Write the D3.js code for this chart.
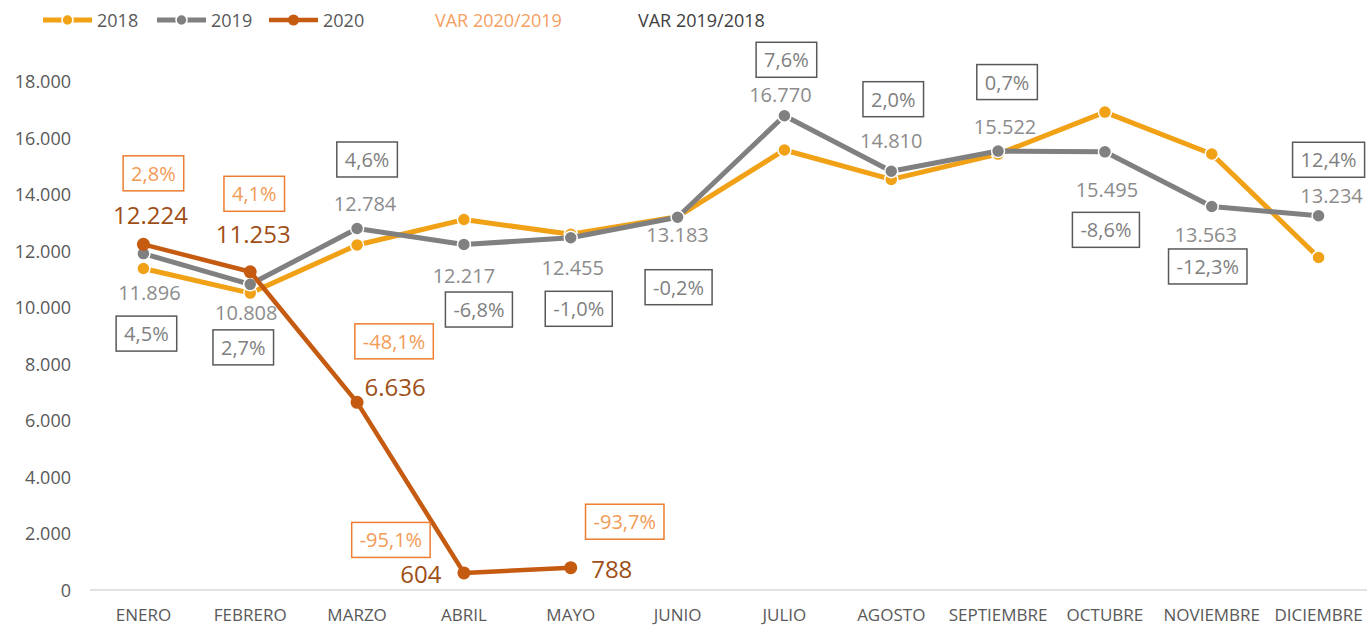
<!DOCTYPE html>
<html>
<head>
<meta charset="utf-8">
<script src="https://cdn.jsdelivr.net/npm/d3@7"></script>
<style>
  html, body { margin: 0; padding: 0; background: #fff; }
  svg { display: block; font-family: "Open Sans", "Noto Sans", sans-serif; }
</style>
</head>
<body>
<svg id="chart" width="1367" height="626"></svg>
<script>
// ---- data ----
const months = ["ENERO","FEBRERO","MARZO","ABRIL","MAYO","JUNIO","JULIO","AGOSTO","SEPTIEMBRE","OCTUBRE","NOVIEMBRE","DICIEMBRE"];
const values2018 = [11370, 10500, 12200, 13100, 12580, 13200, 15560, 14520, 15414, 16900, 15420, 11760];
const values2019 = [11896, 10808, 12784, 12217, 12455, 13183, 16770, 14810, 15522, 15495, 13563, 13234];
const values2020 = [12224, 11253, 6636, 604, 788];
const var2019vs2018 = ["4,5%","2,7%","4,6%","-6,8%","-1,0%","-0,2%","7,6%","2,0%","0,7%","-8,6%","-12,3%","12,4%"];
const var2020vs2019 = ["2,8%","4,1%","-48,1%","-95,1%","-93,7%"];
const yTicks = [0, 2000, 4000, 6000, 8000, 10000, 12000, 14000, 16000, 18000];
const seriesNames = ["2018", "2019", "2020"];

// ---- label placement (layout, offsets from the data point) ----
const off2019Lbl = [[6,39],[-4,28],[8,-25],[0,31],[2,30],[0,17],[-4,-21],[0,-31],[7,-25],[2,38],[-6,28],[13,-20]];
const off1918Box = [[3,80],[-7,63],[10,-69],[15,65],[8,71],[1,70],[2,-56],[2,-72],[9,-69],[1,78],[-4,60],[10,-56]];
const off2020Lbl = [[7,-30],[3,-38],[38,-16],[-43,1],[41,1]];
const off2019Box = [[10,-71],[4,-78],[37,-61],[-73,-33],[54,-46]];

const C2018 = "#f0a115", C2019 = "#808080", C2020 = "#c55a11";
const TXT = "#595959";

const svg = d3.select("#chart");
const x = d3.scaleBand().domain(months).range([90, 1372]).paddingInner(0).paddingOuter(0);
const y = d3.scaleLinear().domain([0, 20000]).range([590, 24.44]);
const cx = m => x(m) + x.bandwidth() / 2;
const fmt = v => d3.format(",")(v).replace(/,/g, ".");

// y tick labels
svg.append("g").selectAll("text").data(yTicks).join("text")
  .attr("x", 71).attr("y", d => y(d))
  .attr("text-anchor", "end").attr("dominant-baseline", "central")
  .attr("font-size", 18).attr("fill", TXT)
  .text(d => fmt(d));

// x axis line + category labels
const xAxis = d3.axisBottom(x).tickSize(0).tickPadding(20);
const gx = svg.append("g").attr("transform", "translate(0,590)").call(xAxis);
gx.select(".domain").attr("stroke", "#d9d9d9").attr("stroke-width", 1.5).attr("d", "M90,0H1367");
gx.selectAll("text").attr("font-size", 17).attr("fill", TXT)
  .attr("font-family", "'Open Sans', sans-serif").attr("dy", 0).attr("y", 30.5);

function drawSeries(vals, color, width, r, outline) {
  const pts = vals.map((v, i) => [cx(months[i]), y(v)]);
  const line = d3.line().x(d => d[0]).y(d => d[1]);
  svg.append("path").datum(pts).attr("d", line)
    .attr("fill", "none").attr("stroke", color).attr("stroke-width", width)
    .attr("stroke-linejoin", "round");
  svg.append("g").selectAll("circle").data(pts).join("circle")
    .attr("cx", d => d[0]).attr("cy", d => d[1]).attr("r", r)
    .attr("fill", color)
    .attr("stroke", outline ? "#fff" : color).attr("stroke-width", outline ? 1.5 : 0);
  return pts;
}

const p2018 = drawSeries(values2018, C2018, 5, 6.5, true);
const p2019 = drawSeries(values2019, C2019, 5, 6.5, true);
const p2020 = drawSeries(values2020, C2020, 4.5, 6.5, false);

// value labels 2019
svg.append("g").selectAll("text").data(values2019).join("text")
  .attr("x", (d, i) => p2019[i][0] + off2019Lbl[i][0])
  .attr("y", (d, i) => p2019[i][1] + off2019Lbl[i][1])
  .attr("text-anchor", "middle").attr("dominant-baseline", "central")
  .attr("font-size", 20).attr("fill", "#8c8c8c")
  .text(d => fmt(d));

// value labels 2020
svg.append("g").selectAll("text").data(values2020).join("text")
  .attr("x", (d, i) => p2020[i][0] + off2020Lbl[i][0])
  .attr("y", (d, i) => p2020[i][1] + off2020Lbl[i][1])
  .attr("text-anchor", "middle").attr("dominant-baseline", "central")
  .attr("font-size", 24).attr("fill", "#9e4f16")
  .text(d => fmt(d));

function drawBoxes(labels, pts, offs, border, textColor) {
  const g = svg.append("g");
  labels.forEach((t, i) => {
    const bx = pts[i][0] + offs[i][0], by = pts[i][1] + offs[i][1];
    const txt = g.append("text").attr("x", bx).attr("y", by)
      .attr("text-anchor", "middle").attr("dominant-baseline", "central")
      .attr("font-size", 20).attr("fill", textColor).text(t);
    const w = txt.node().getComputedTextLength() + 16;
    const h = 35;
    g.insert("rect", "text").attr("x", bx - w / 2).attr("y", by - h / 2)
      .attr("width", w).attr("height", h)
      .attr("fill", "#fff").attr("stroke", border).attr("stroke-width", 1.5);
  });
}
drawBoxes(var2019vs2018, p2019, off1918Box, "#595959", "#7f7f7f");
drawBoxes(var2020vs2019, p2020, off2019Box, "#ed7d31", "#f29b56");

// legend
const legend = svg.append("g");
const legItems = [
  {name: seriesNames[0], color: C2018, x0: 43, outline: true, w: 5},
  {name: seriesNames[1], color: C2019, x0: 157, outline: true, w: 5},
  {name: seriesNames[2], color: C2020, x0: 269, outline: false, w: 4.5}
];
legItems.forEach(it => {
  legend.append("line").attr("x1", it.x0).attr("x2", it.x0 + 49).attr("y1", 20).attr("y2", 20)
    .attr("stroke", it.color).attr("stroke-width", it.w);
  legend.append("circle").attr("cx", it.x0 + 24.5).attr("cy", 20).attr("r", 5.5)
    .attr("fill", it.color).attr("stroke", it.outline ? "#fff" : it.color)
    .attr("stroke-width", it.outline ? 1.5 : 0);
  legend.append("text").attr("x", it.x0 + 54).attr("y", 20)
    .attr("dominant-baseline", "central").attr("font-size", 18).attr("fill", TXT).text(it.name);
});
legend.append("text").attr("x", 435).attr("y", 20).attr("dominant-baseline", "central")
  .attr("font-size", 18).attr("fill", "#f4a062").text("VAR 2020/2019");
legend.append("text").attr("x", 638).attr("y", 20).attr("dominant-baseline", "central")
  .attr("font-size", 18).attr("fill", "#404040").text("VAR 2019/2018");
</script>
</body>
</html>
